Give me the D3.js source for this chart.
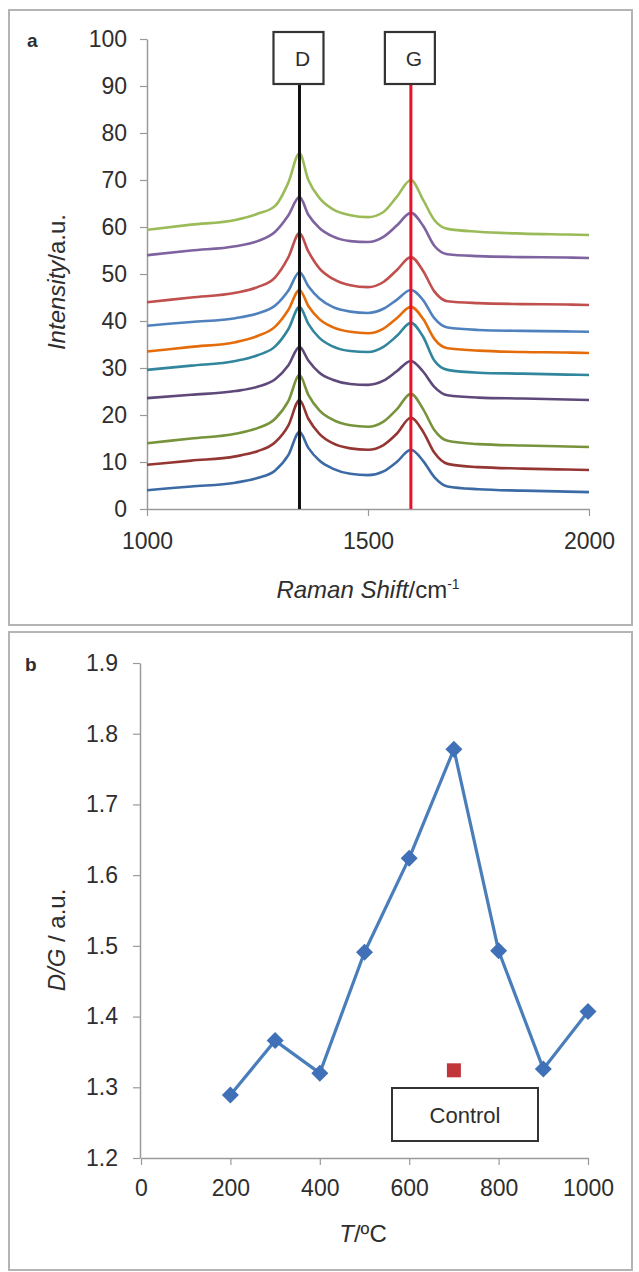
<!DOCTYPE html>
<html>
<head>
<meta charset="utf-8">
<script src="https://cdn.jsdelivr.net/npm/d3@7"></script>
<style>
  html, body { margin: 0; padding: 0; background: #fff; }
  svg { display: block; }
  text { font-family: "Liberation Sans", Arial, sans-serif; fill: #2e2e2e; }
</style>
</head>
<body>
<svg id="chart" width="639" height="1272"></svg>
<script>
// ---------- Panel a data (Raman spectra) ----------
const ramanShift = [1000,1100,1200,1250,1290,1320,1345,1365,1390,1420,1460,1500,1535,1565,1597,1625,1650,1680,1750,1850,1950,2000];
const spectrum1  = [4.0,4.8,5.6,6.6,8.2,11.5,16.4,13.0,10.3,8.6,7.5,7.2,8.0,10.0,12.6,10.2,6.8,4.8,4.2,3.9,3.7,3.6];
const spectrum2  = [9.4,10.3,11.2,12.3,14.2,17.8,23.2,19.2,16.0,14.0,12.9,12.6,13.6,16.0,19.4,16.4,12.0,9.6,8.9,8.6,8.4,8.3];
const spectrum3  = [14.0,15.0,16.0,17.2,19.2,23.0,28.5,24.3,21.0,19.0,17.8,17.5,18.6,21.2,24.5,21.2,16.8,14.5,13.8,13.5,13.3,13.2];
const spectrum4  = [23.6,24.3,25.1,26.0,27.6,30.6,34.5,31.6,29.0,27.5,26.6,26.4,27.3,29.3,31.5,29.2,26.0,24.2,23.7,23.5,23.3,23.2];
const spectrum5  = [29.6,30.5,31.5,32.7,34.6,38.3,43.0,39.4,36.4,34.6,33.6,33.4,34.5,36.8,39.6,36.6,31.6,29.6,29.0,28.8,28.6,28.5];
const spectrum6  = [33.5,34.5,35.5,36.8,38.8,42.4,46.6,43.2,40.4,38.7,37.7,37.4,38.4,40.6,43.0,40.4,36.2,34.2,33.7,33.4,33.3,33.2];
const spectrum7  = [39.0,39.8,40.6,41.6,43.3,46.5,50.4,47.4,44.8,43.0,42.0,41.7,42.6,44.5,46.6,44.4,40.6,38.6,38.1,37.9,37.8,37.7];
const spectrum8  = [44.0,45.0,46.0,47.2,49.3,53.6,58.7,54.8,51.2,49.0,47.6,47.2,48.3,50.8,53.6,50.6,46.3,44.2,43.8,43.6,43.5,43.4];
const spectrum9  = [54.0,55.0,55.9,57.0,59.0,62.5,66.4,62.6,59.8,58.0,57.0,56.8,57.9,60.3,63.0,60.2,56.0,54.2,53.8,53.6,53.5,53.4];
const spectrum10 = [59.4,60.5,61.5,62.8,64.5,69.5,75.7,70.0,66.2,63.8,62.5,62.1,63.2,66.4,70.0,65.7,61.5,59.6,59.0,58.6,58.4,58.3];
const spectra = [spectrum1,spectrum2,spectrum3,spectrum4,spectrum5,spectrum6,spectrum7,spectrum8,spectrum9,spectrum10];
const spectrumColors = ["#3c6aa5","#943634","#77933c","#5f497a","#31859c","#e46c0a","#4f81bd","#c0504d","#7e63a0","#9bbb59"];
const bandPositions = [1345, 1597];
const bandLabels = ["D", "G"];
const bandColors = ["#111111", "#e8102a"];
const intensityTicks = [0,10,20,30,40,50,60,70,80,90,100];
const shiftTicks = [1000,1500,2000];

// ---------- Panel b data (D/G ratio) ----------
const temperatures = [200,300,400,500,600,700,800,900,1000];
const dgRatio = [1.289,1.366,1.320,1.491,1.624,1.778,1.493,1.326,1.407];
const controlT = [700];
const controlDG = [1.324];
const tempTicks = [0,200,400,600,800,1000];
const ratioTicks = [1.2,1.3,1.4,1.5,1.6,1.7,1.8,1.9];

const svg = d3.select("#chart");
svg.append("rect").attr("width",639).attr("height",1272).attr("fill","#fff");

// panel frames
svg.append("rect").attr("x",9).attr("y",10).attr("width",623).attr("height",615)
  .attr("fill","none").attr("stroke","#b4b4b4").attr("stroke-width",2);
svg.append("rect").attr("x",9).attr("y",632).attr("width",623).attr("height",638)
  .attr("fill","none").attr("stroke","#b4b4b4").attr("stroke-width",2);

const axisColor = "#9a9a9a";
function styleAxis(g){
  g.select(".domain").attr("stroke",axisColor).attr("stroke-width",1.5);
  g.selectAll(".tick line").attr("stroke",axisColor).attr("stroke-width",1.2);
  g.selectAll(".tick text").style("font-family","'Liberation Sans', Arial, sans-serif")
    .style("font-size","23px").attr("fill","#2e2e2e");
}

// ================= Panel a =================
const xA = d3.scaleLinear().domain([1000,2000]).range([147,589]);
const yA = d3.scaleLinear().domain([0,100]).range([509,39]);

const gAy = svg.append("g").attr("transform","translate(147,0)")
  .call(d3.axisLeft(yA).tickValues(intensityTicks).tickFormat(d3.format("d")).tickSize(7).tickPadding(13).tickSizeOuter(0));
styleAxis(gAy);
const gAx = svg.append("g").attr("transform","translate(0,509)")
  .call(d3.axisBottom(xA).tickValues(shiftTicks).tickFormat(d3.format("d")).tickSize(7).tickPadding(17).tickSizeOuter(0));
styleAxis(gAx);

const lineA = d3.line().x((d,i)=>xA(ramanShift[i])).y(d=>yA(d)).curve(d3.curveMonotoneX);
svg.append("g").selectAll("path").data(spectra).join("path")
  .attr("d", lineA).attr("fill","none")
  .attr("stroke",(d,i)=>spectrumColors[i]).attr("stroke-width",2.6)
  .attr("stroke-linejoin","round");

// band lines and boxes
bandPositions.forEach((b,i)=>{
  const x = xA(b);
  svg.append("line").attr("x1",x).attr("x2",x).attr("y1",84).attr("y2",yA(0))
    .attr("stroke",bandColors[i]).attr("stroke-width",3);
  svg.append("rect").attr("x",x-26).attr("y",32).attr("width",50).attr("height",52)
    .attr("fill","#fff").attr("stroke","#333").attr("stroke-width",2.2);
  svg.append("text").attr("x",x+3).attr("y",66).attr("text-anchor","middle")
    .style("font-size","21px").text(bandLabels[i]);
});

svg.append("text").attr("x",27).attr("y",47).style("font-size","19px").style("font-weight","bold").text("a");

// axis titles a
const tA = svg.append("text").attr("x",368).attr("y",598).attr("text-anchor","middle").style("font-size","24px");
tA.append("tspan").attr("font-style","italic").text("Raman Shift");
tA.append("tspan").text("/cm");
tA.append("tspan").attr("dy",-9).style("font-size","14px").text("-1");

const yTA = svg.append("text").attr("transform","translate(65,282) rotate(-90)")
  .attr("text-anchor","middle").style("font-size","24px");
yTA.append("tspan").attr("font-style","italic").text("Intensity");
yTA.append("tspan").text("/a.u.");

// ================= Panel b =================
const xB = d3.scaleLinear().domain([0,1000]).range([141,588]);
const yB = d3.scaleLinear().domain([1.2,1.9]).range([1158,663]);

const gBy = svg.append("g").attr("transform","translate(140,0)")
  .call(d3.axisLeft(yB).tickValues(ratioTicks).tickFormat(d3.format(".1f")).tickSize(7).tickPadding(15).tickSizeOuter(0));
styleAxis(gBy);
const gBx = svg.append("g").attr("transform","translate(0,1158)")
  .call(d3.axisBottom(xB).tickValues(tempTicks).tickFormat(d3.format("d")).tickSize(7).tickPadding(15).tickSizeOuter(0));
styleAxis(gBx);

const lineB = d3.line().x((d,i)=>xB(temperatures[i])).y(d=>yB(d));
svg.append("path").datum(dgRatio).attr("d",lineB).attr("fill","none")
  .attr("stroke","#4a7ebb").attr("stroke-width",3.2).attr("stroke-linejoin","round");
svg.append("g").selectAll("path").data(dgRatio).join("path")
  .attr("transform",(d,i)=>`translate(${xB(temperatures[i])},${yB(d)})`)
  .attr("d","M0,-8.5L8.5,0L0,8.5L-8.5,0Z").attr("fill","#3f70b8");

svg.append("g").selectAll("rect").data(controlDG).join("rect")
  .attr("x",(d,i)=>xB(controlT[i])-7).attr("y",d=>yB(d)-7)
  .attr("width",14).attr("height",14).attr("fill","#c0363a");

// Control label box
svg.append("rect").attr("x",392).attr("y",1088).attr("width",146).attr("height",53)
  .attr("fill","#fff").attr("stroke","#333").attr("stroke-width",2);
svg.append("text").attr("x",465).attr("y",1123).attr("text-anchor","middle")
  .style("font-size","22px").text("Control");

svg.append("text").attr("x",25).attr("y",671).style("font-size","19px").style("font-weight","bold").text("b");

const tB = svg.append("text").attr("x",363).attr("y",1242).attr("text-anchor","middle").style("font-size","24px");
tB.append("tspan").attr("font-style","italic").text("T");
tB.append("tspan").text("/ºC");

const yTB = svg.append("text").attr("transform","translate(65,940) rotate(-90)")
  .attr("text-anchor","middle").style("font-size","24px");
yTB.append("tspan").attr("font-style","italic").text("D/G");
yTB.append("tspan").text(" / a.u.");
</script>
</body>
</html>
